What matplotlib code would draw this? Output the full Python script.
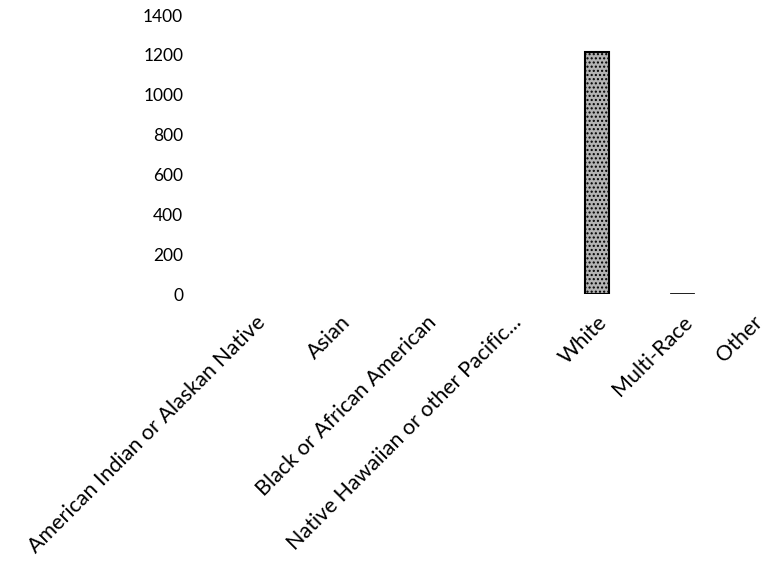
import matplotlib.pyplot as plt
import matplotlib.transforms as mtransforms
import numpy as np

# Respondents by race
RACES = [
    "American Indian or Alaskan Native",
    "Asian",
    "Black or African American",
    "Native Hawaiian or other Pacific...",
    "White",
    "Multi-Race",
    "Other",
]
COUNTS = [0, 0, 0, 0, 1212, 6, 0]
Y_TICKS = [0, 200, 400, 600, 800, 1000, 1200, 1400]

plt.rcParams["font.family"] = ["Lato", "DejaVu Sans"]
plt.rcParams["hatch.color"] = "#8a8a8a"

fig = plt.figure(figsize=(7.72, 5.69), dpi=100)
ax = fig.add_axes([0.275, 0.4833, 0.775, 0.4903])

x = np.arange(len(RACES))
lw = [1.5 if c > 20 else 0.6 if c > 0 else 0 for c in COUNTS]
ax.bar(x, COUNTS, width=0.28, color="#b4b4b4", edgecolor="black",
       linewidth=lw, hatch="....")

ax.set_xlim(-0.5, len(RACES) - 0.5)
ax.set_ylim(0, 1400)
ax.set_yticks(Y_TICKS)
ax.set_yticklabels([str(t) for t in Y_TICKS], fontsize=12.5)
ax.set_xticks(x)
ax.set_xticklabels(RACES, rotation=45, ha="right", va="top",
                   rotation_mode="anchor", fontsize=15.5)

for s in ax.spines.values():
    s.set_visible(False)
ax.tick_params(axis="y", length=0, pad=21)
ax.tick_params(axis="x", length=0, pad=13)

# keep the last label inside the figure edge
last = ax.get_xticklabels()[-1]
last.set_transform(last.get_transform() +
                   mtransforms.ScaledTranslation(-11 / 72, 0, fig.dpi_scale_trans))

fig.savefig("out.png", dpi=100)
